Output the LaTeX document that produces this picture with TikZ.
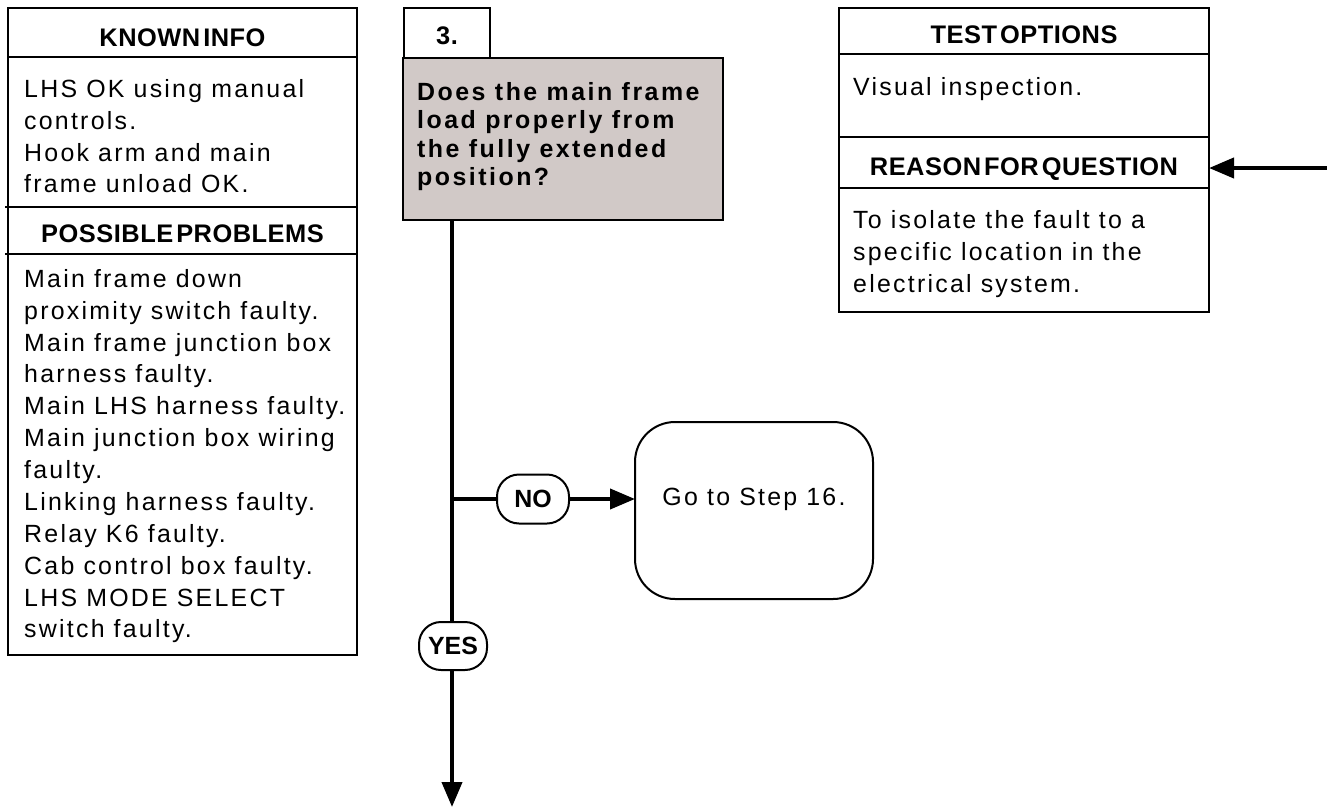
\documentclass[tikz,border=0pt]{standalone}
\usepackage{fontspec}
\setmainfont{Liberation Sans}
\newfontfamily\bodyf[LetterSpace=9]{Liberation Sans}
\newfontfamily\qfont[LetterSpace=10]{Liberation Sans Bold}
\newfontfamily\hdrf[LetterSpace=2]{Liberation Sans Bold}
\newfontfamily\pillf{Liberation Sans Bold}
\usetikzlibrary{arrows.meta}
\definecolor{qgrey}{RGB}{209,201,199}
\begin{document}
\begin{tikzpicture}[x=1bp,y=-1bp,
  frame/.style={draw, line width=2bp, inner sep=0pt, outer sep=0pt, anchor=north west},
  divider/.style={line width=2bp},
  hdr/.style={font=\hdrf\fontsize{25.5}{28}\selectfont, inner sep=0pt, anchor=base},
  bodytxt/.style={font=\bodyf\fontsize{25}{32}\selectfont, align=left, inner sep=0pt, anchor=north west},
  qtxt/.style={font=\qfont\fontsize{25}{28.5}\selectfont, align=left, inner sep=0pt, anchor=north west},
  pill/.style={draw, line width=2bp, rounded corners=22bp, inner sep=0pt, font=\pillf\fontsize{25}{28}\selectfont},
  conn/.style={line width=4bp},
  tip/.style={-{Triangle[length=25bp,width=20bp]}}
]
\useasboundingbox (0,0) rectangle (1327,807);

% ---------- left column ----------
\node[frame, minimum width=349bp, minimum height=647bp] (left) at (8,8) {};
\draw[divider] (8,57) -- (357,57);
\draw[divider] (5,207) -- (357,207);
\draw[divider] (5,254) -- (357,254);
\node[hdr] (kih) at (182.5,47) {KNOWN\hspace{3bp}INFO};
\node[bodytxt] (kib) at (24,79) {LHS OK using manual\\controls.\\Hook arm and main\\frame unload OK.};
\node[hdr] (pph) at (182.5,242) {POSSIBLE\hspace{3bp}PROBLEMS};
\node[bodytxt] (ppb) at (24,269) {Main frame down\\proximity switch faulty.\\Main frame junction box\\harness faulty.\\Main LHS harness faulty.\\Main junction box wiring\\faulty.\\Linking harness faulty.\\Relay K6 faulty.\\Cab control box faulty.\\LHS MODE SELECT\\switch faulty.};

% ---------- step / question ----------
\node[frame, minimum width=86bp, minimum height=50bp] (stepno) at (404,8) {};
\node[hdr] (steplbl) at (447,45) {3.};
\node[frame, fill=qgrey, minimum width=320bp, minimum height=162bp] (q) at (403,58) {};
\node[qtxt] (qt) at (417,82) {Does the main frame\\load properly from\\the fully extended\\position?};

% ---------- right column ----------
\node[frame, minimum width=370bp, minimum height=304bp] (right) at (839,8) {};
\draw[divider] (839,54) -- (1209,54);
\draw[divider] (839,137) -- (1209,137);
\draw[divider] (839,188) -- (1209,188);
\node[hdr] (toh) at (1024,44) {TEST\hspace{3bp}OPTIONS};
\node[bodytxt] (tob) at (853,77) {Visual inspection.};
\node[hdr] (rfh) at (1024,175) {REASON\hspace{3bp}FOR\hspace{3bp}QUESTION};
\node[bodytxt] (rfb) at (853,210) {To isolate the fault to a\\specific location in the\\electrical system.};

% ---------- outcome ----------
\node[frame, rounded corners=40bp, minimum width=238bp, minimum height=177bp] (go) at (635,422) {};
\node[font=\bodyf\fontsize{25}{32}\selectfont, inner sep=0pt, anchor=base] (gotxt) at (754,505) {Go to Step 16.};

\node[pill, fill=white, minimum width=72bp, minimum height=49bp] (no) at (533,499) {NO};
\node[pill, fill=white, minimum width=68bp, minimum height=48bp] (yes) at (453,646) {YES};

\coordinate (j) at (452,499);
\coordinate (endpt) at (452,807);
\coordinate (rin) at (1327,168);

\draw[conn] (q.south -| j) -- (j |- yes.north);
\draw[conn, tip] (j |- yes.south) -- (endpt);
\draw[conn] (j) -- (no.west);
\draw[conn, tip] (no.east) -- (no.east -| go.west);
\draw[conn, tip] (rin) -- (rin -| right.east);
\end{tikzpicture}
\end{document}
